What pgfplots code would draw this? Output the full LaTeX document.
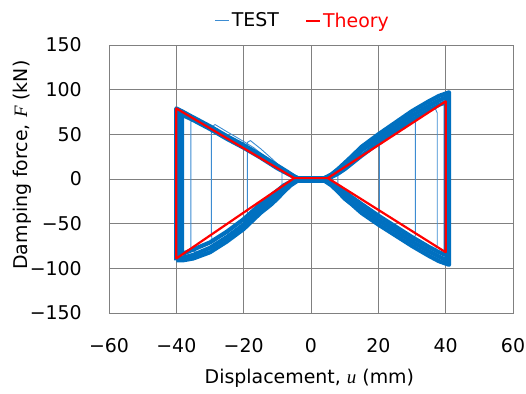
\documentclass[border=0pt]{standalone}
\usepackage{fontspec}
\setmainfont{DejaVu Sans}
\newfontfamily\serifit{Liberation Serif}
\usepackage{pgfplots}
\pgfplotsset{compat=1.18}
\definecolor{testblue}{RGB}{0,112,192}
\definecolor{thinblue}{RGB}{60,140,210}
\definecolor{gridgray}{RGB}{128,128,128}
\newcommand{\chfont}{\fontsize{19}{22}\selectfont}
\begin{document}
\begin{tikzpicture}
\begin{axis}[
 scale only axis, width=404bp, height=268bp,
 xmin=-60, xmax=60, ymin=-150, ymax=150,
 xtick={-60,-40,...,60}, ytick={-150,-100,...,150},
 xticklabels={−60,−40,−20,0,20,40,60},
 yticklabels={−150,−100,−50,0,50,100,150},
 grid=major, major grid style={draw=gridgray, line width=0.8bp},
 axis line style={draw=gridgray, line width=0.8bp},
 major tick length=0pt,
 tick label style={font=\chfont, inner sep=0pt},
 xticklabel style={yshift=-25bp},
 yticklabel style={xshift=-27bp},
 xlabel={Displacement, {\serifit\itshape u} (mm)},
 ylabel={Damping force, {\serifit\itshape F} (kN)},
 xlabel style={at={(axis description cs:0.496,-0.2425)}, anchor=center, font=\chfont},
 ylabel style={at={(axis description cs:-0.2153,0.552)}, anchor=center, font=\chfont},
 legend style={at={(axis description cs:0.48,1.091)}, anchor=center, draw=none, fill=none,
   font=\chfont, inner sep=0pt, legend columns=2,
   /tikz/every even column/.append style={column sep=24bp}},
 legend image code/.code={\draw[#1] (0bp,0bp) -- (14bp,0bp);},
]
% small loops (thin)
\addplot[thinblue, line width=0.9pt] coordinates {
(-35.7,-76) (-35.7,64) (-35,66) (-30,58) (-25,47) (-20,37) (-15,26) (-10,14) (-7,7) (-5,3) (-4,1) (4,1) (6,4) (8,9) (10,15) (12,21) (15,32) (20,45) (25,58) (30,71) (35,80) (37,78) (37.5,74) (37.5,-74) (37,-78) (35,-80) (30,-70) (25,-58) (20,-46) (15,-33) (12,-24) (10,-18) (8,-11) (6,-5) (4,-1) (-4,-1) (-6,-5) (-8,-11) (-10,-18) (-12,-24) (-15,-33) (-20,-51) (-25,-65) (-30,-77) (-34,-82) (-35.5,-80) (-35.7,-76)
};
\addlegendentry{TEST}
\addplot[thinblue, line width=0.9pt, forget plot] coordinates {
(-29.6,-61) (-29.6,54) (-29.2,59) (-28.5,61) (-25,53) (-20,42) (-17,35) (-15,29) (-10,15) (-7,7) (-5,3) (-4,1) (4,1) (6,4) (8,9) (10,15) (12,21) (15,32) (20,45) (25,58) (29,68) (30.6,66) (31,63) (31,-63) (30.5,-67) (29,-68) (25,-58) (20,-46) (15,-33) (12,-24) (10,-18) (8,-11) (6,-5) (4,-1) (-4,-1) (-6,-5) (-8,-11) (-10,-18) (-12,-24) (-15,-33) (-20,-51) (-25,-65) (-28,-72) (-29.4,-68) (-29.6,-61)
};
\addplot[thinblue, line width=0.9pt, forget plot] coordinates {
(-18.9,-44) (-18.9,41) (-18,43) (-15,34) (-12,24) (-10,17) (-7,8) (-5,3) (-4,1) (4,1) (6,4) (8,9) (10,15) (12,21) (15,32) (19,42) (20,40) (20.3,37) (20.3,-38) (20,-42) (19,-44) (15,-33) (12,-24) (10,-18) (8,-11) (6,-5) (4,-1) (-4,-1) (-6,-5) (-8,-11) (-10,-18) (-12,-24) (-15,-33) (-18,-45) (-18.9,-44)
};
\addplot[thinblue, line width=0.9pt, forget plot] coordinates {
(-8.6,-8) (-8.6,7) (-7,7) (-5,3) (-4,1) (4,1) (6,3) (7.5,5) (8,4) (8,-8) (7,-9) (6,-5) (4,-1) (-4,-1) (-6,-5) (-8,-9) (-8.6,-8)
};
% main loops (thick band)
\addplot[testblue, line width=4.2pt, line join=round, forget plot] coordinates {
(-38.3,-84) (-38.3,72) (-35,66) (-30,56) (-25,45) (-20,35) (-15,24) (-10,12) (-7,6) (-5,2) (-4,0) (4,0) (6,2) (8,6) (10,11) (12,17) (15,26) (20,40) (25,53) (30,66) (35,77) (38,83) (40,86) (40,-85) (38,-82) (35,-76) (30,-65) (25,-53) (20,-41) (15,-28) (12,-20) (10,-14) (8,-8) (6,-3) (4,0) (-4,0) (-6,-3) (-8,-7) (-10,-13) (-12,-19) (-15,-28) (-20,-45) (-25,-59) (-30,-71) (-35,-79) (-38.3,-84)
};
\addplot[testblue, line width=4.2pt, line join=round, forget plot] coordinates {
(-39.2,-89) (-39.2,77) (-38,75) (-35,68) (-30,58) (-25,47) (-20,37) (-15,26) (-10,14) (-7,7) (-5,3) (-4,1) (0,1) (4,1) (6,4) (8,9) (10,15) (12,21) (15,32) (20,45) (25,58) (30,71) (35,82) (38,88) (40.5,92) (40.5,-91) (38,-87) (35,-81) (30,-70) (25,-58) (20,-46) (15,-33) (12,-24) (10,-18) (8,-11) (6,-5) (4,-1) (0,-1) (-4,-1) (-6,-5) (-8,-11) (-10,-18) (-12,-24) (-15,-33) (-20,-51) (-25,-65) (-30,-77) (-35,-85) (-38,-88) (-39.2,-89)
};
\addplot[testblue, line width=4.2pt, line join=round, forget plot] coordinates {
(-40,-91) (-40,79) (-35,69) (-30,59) (-25,48) (-20,38) (-15,27) (-10,15) (-7,8) (-5,3) (-4,1) (4,1) (6,5) (8,11) (10,18) (12,25) (15,36) (20,50) (25,63) (30,76) (35,87) (38,93) (41,97) (41,-96) (38,-92) (35,-86) (30,-75) (25,-63) (20,-51) (15,-38) (12,-28) (10,-22) (8,-14) (6,-7) (4,-2) (-4,-2) (-6,-7) (-8,-14) (-10,-22) (-12,-29) (-15,-38) (-20,-56) (-25,-70) (-30,-82) (-35,-89) (-38,-91) (-40,-91)
};
% theory
\addplot[red, line width=2.2pt, line join=round] coordinates {
(5,1) (40,87) (40,-82) (5,1) (-5,1) (-40,79) (-40,-89) (-5,1)
};
\addlegendentry{\textcolor{red}{Theory}}
\end{axis}
\pgfresetboundingbox
\path[use as bounding box] (-109bp,-81bp) rectangle (417bp,313bp);
\end{tikzpicture}
\end{document}
